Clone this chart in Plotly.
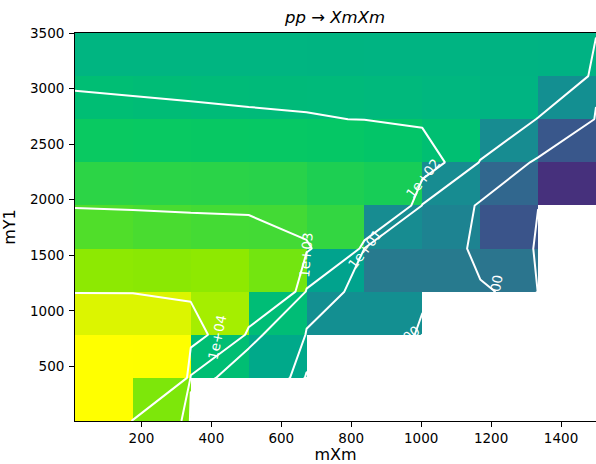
import re
import colorsys
import numpy as np
import plotly.graph_objects as go
from plotly.colors import sample_colorscale

# Scan grid (GeV)
mXm = [10.0, 175.6, 341.1, 506.7, 672.2, 837.8, 1003.3, 1168.9, 1334.4, 1500.0]
mY1 = [10.0, 397.8, 785.6, 1173.3, 1561.1, 1948.9, 2336.7, 2724.4, 3112.2, 3500.0]

# Cross section on the grid, rows follow mY1, columns follow mXm (0 = no events)
xsec = [
    [1.6e5, 6.2e3, 0, 0, 0, 0, 0, 0, 0, 0],
    [1.6e5, 1.5e5, 150, 35, 0, 0, 0, 0, 0, 0],
    [6.0e4, 6.0e4, 1.42e4, 130, 7.6, 7.6, 0, 0, 0, 0],
    [8.5e3, 8.0e3, 8.7e3, 5.1e3, 25, 2.0, 2.0, 1.35, 0, 0],
    [2.4e3, 2.0e3, 1.75e3, 1.7e3, 1.1e3, 6.3, 4.0, 0.12, 0, 0],
    [910, 880, 850, 800, 600, 500, 6.3, 0.44, 0.011, 0.03],
    [350, 340, 330, 320, 300, 260, 160, 6.3, 0.14, 0.05],
    [143, 128, 117, 110, 105, 98, 85, 70, 7.6, 0.8],
    [78, 76, 76, 75, 74, 72, 70, 68, 65, 1.5],
    [50, 48, 46, 44, 40, 36, 32, 28, 24, 11],
]

contour_levels = [1e-2, 1e0, 1e1, 1e2, 1e3, 1e4]
color_min = 8e-4
color_max = 1.6e5

Z = np.array(xsec, dtype=float)
logZ = np.full(Z.shape, np.nan)
logZ[Z > 0] = np.log10(Z[Z > 0])
zmin, zmax = np.log10(color_min), np.log10(color_max)


def vivid(pos, rgb_str):
    """Viridis with livelier greens and yellows."""
    r, g, b = [float(c) for c in re.findall(r"[\d.]+", rgb_str)[:3]]
    h, s, v = colorsys.rgb_to_hsv(r / 255, g / 255, b / 255)
    w = min(max((pos - 0.4) / 0.2, 0.0), 1.0)
    s = min(1.0, s * (1 + 0.4 * w))
    v = min(1.0, v * (1 + 0.08 * w))
    h = h + (6 / 360) * min(max((pos - 0.85) / 0.15, 0.0), 1.0)
    r, g, b = colorsys.hsv_to_rgb(h, s, v)
    return f"rgb({r * 255:.0f},{g * 255:.0f},{b * 255:.0f})"


stops = np.linspace(0, 1, 41)
viridis_vivid = [[float(p), vivid(p, c)] for p, c in zip(stops, sample_colorscale("Viridis", list(stops)))]

fig = go.Figure()

# cell (i, j) is coloured by its lower-left grid value
fig.add_trace(go.Heatmap(
    x=mXm, y=mY1, z=logZ[:-1, :-1],
    colorscale=viridis_vivid, zmin=zmin, zmax=zmax,
    showscale=False, hoverinfo="skip",
))

for lev in contour_levels:
    fig.add_trace(go.Contour(
        x=mXm, y=mY1, z=Z,
        autocontour=False,
        contours=dict(start=lev, end=lev, size=lev, coloring="none", showlabels=False),
        line=dict(color="white", width=2, smoothing=0),
        showscale=False, hoverinfo="skip",
    ))

# inline contour labels: (level, mXm, mY1, angle)
label_spots = [
    (1e4, 416, 766, -78),
    (1e3, 670, 1504, -85),
    (1e1, 839, 1558, -52),
    (1e2, 1005, 2196, -52),
    (1e0, 1208, 1126, -80),
    (1e0, 939, 721, -36),
]

for lev, x, y, ang in label_spots:
    fig.add_annotation(
        x=x, y=y, xref="x", yref="y", text=f"{lev:.0e}", showarrow=False,
        textangle=ang, font=dict(family="DejaVu Sans", size=13.5, color="white"),
        borderpad=0,
    )

axis_common = dict(
    ticks="outside", ticklen=5, tickwidth=0.8, tickcolor="black",
    showline=True, linecolor="black", linewidth=0.8,
    showgrid=False, zeroline=False, automargin=False,
    tickfont=dict(family="DejaVu Sans", size=13.5, color="black"),
)

fig.update_layout(
    width=596, height=464,
    margin=dict(l=75, r=0, t=33, b=43),
    plot_bgcolor="white", paper_bgcolor="white",
    font=dict(family="DejaVu Sans", size=13.5, color="black"),
    title=dict(
        text="<i>pp</i> → <i>XmXm</i>",
        x=335 / 596, xref="container", xanchor="center",
        y=1 - 17 / 464, yref="container", yanchor="middle",
        font=dict(family="DejaVu Sans", size=16.5, color="black"),
    ),
    xaxis=dict(range=[10, 1500], tickvals=[200, 400, 600, 800, 1000, 1200, 1400],
               mirror=True, title=dict(text="mXm", standoff=4), **axis_common),
    yaxis=dict(range=[10, 3500], tickvals=[500, 1000, 1500, 2000, 2500, 3000, 3500],
               mirror=False, ticklabelstandoff=2,
               title=dict(text="mY1", standoff=10), **axis_common),
    showlegend=False,
)

fig.write_html("out.html")
